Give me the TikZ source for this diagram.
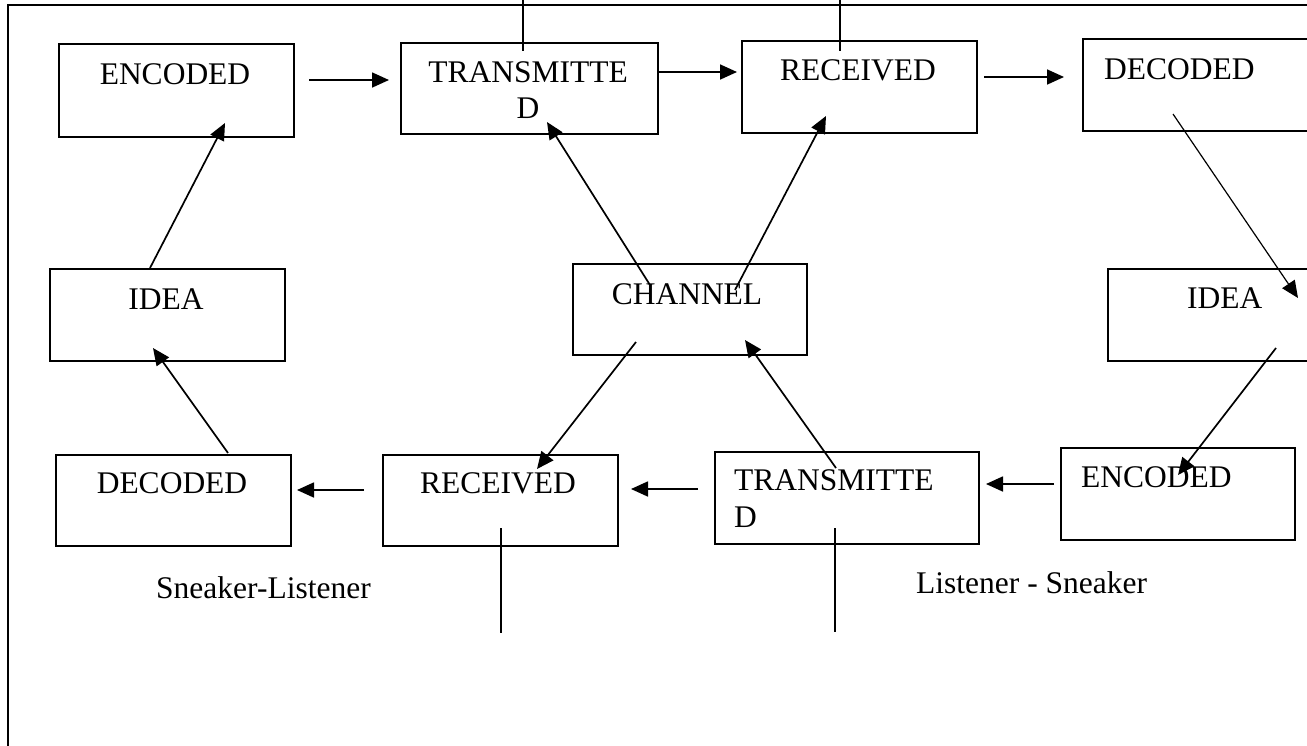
\documentclass[tikz,border=0pt]{standalone}
\usepackage{fontspec}
\setmainfont{Liberation Serif}
\usetikzlibrary{arrows.meta}
\begin{document}
\begin{tikzpicture}[x=1pt,y=-1pt,
  stagebox/.style={draw,line width=1.8pt,rectangle,inner sep=0pt,anchor=north west},
  lbl/.style={inner sep=0pt,font=\fontsize{31.5}{37}\selectfont},
  conn/.style={line width=1.7pt,-{Triangle[length=17pt,width=15pt]}},
  thinconn/.style={line width=1.2pt,-{Triangle[length=17pt,width=15pt]}},
  stem/.style={line width=1.5pt}]
\useasboundingbox (0,0) rectangle (1307,745);
\clip (0,0) rectangle (1307,745);
\fill[white] (0,0) rectangle (1307,745);
% frame
\draw[line width=2pt] (8,760) coordinate (fb) -- (8,5) coordinate (fc) -- (1320,5) coordinate (fr);
% boxes
\node[stagebox,minimum width=235pt,minimum height=93pt] (encT) at (58,43) {};
\node[stagebox,minimum width=257pt,minimum height=91pt] (trT) at (400,42) {};
\node[stagebox,minimum width=235pt,minimum height=92pt] (recT) at (741,40) {};
\node[stagebox,minimum width=240pt,minimum height=92pt] (decT) at (1082,38) {};
\node[stagebox,minimum width=235pt,minimum height=92pt] (ideaL) at (49,268) {};
\node[stagebox,minimum width=234pt,minimum height=91pt] (chan) at (572,263) {};
\node[stagebox,minimum width=240pt,minimum height=92pt] (ideaR) at (1107,268) {};
\node[stagebox,minimum width=235pt,minimum height=91pt] (decB) at (55,454) {};
\node[stagebox,minimum width=235pt,minimum height=91pt] (recB) at (382,454) {};
\node[stagebox,minimum width=264pt,minimum height=92pt] (trB) at (714,451) {};
\node[stagebox,minimum width=234pt,minimum height=92pt] (encB) at (1060,447) {};
% texts
\node[lbl,anchor=base] (tEncT) at (175,84) {ENCODED};
\node[lbl,anchor=base] (tTrT1) at (528,82) {TRANSMITTE};
\node[lbl,anchor=base] (tTrT2) at (528,118) {D};
\node[lbl,anchor=base] (tRecT) at (858,80) {RECEIVED};
\node[lbl,anchor=base west] (tDecT) at (1104,79) {DECODED};
\node[lbl,anchor=base] (tIdeaL) at (166,309) {IDEA};
\node[lbl,anchor=base] (tChan) at (687,304) {CHANNEL};
\node[lbl,anchor=base west] (tIdeaR) at (1187,308) {IDEA};
\node[lbl,anchor=base] (tDecB) at (172,493) {DECODED};
\node[lbl,anchor=base] (tRecB) at (498,493) {RECEIVED};
\node[lbl,anchor=base west] (tTrB1) at (734,490) {TRANSMITTE};
\node[lbl,anchor=base west] (tTrB2) at (734,527) {D};
\node[lbl,anchor=base west] (tEncB) at (1081,487) {ENCODED};
\node[lbl,anchor=base west] (sl) at (156,598) {Sneaker-Listener};
\node[lbl,anchor=base west] (ls) at (916,593) {Listener - Sneaker};
% connector end points
\coordinate (a1s) at (309,80);   \coordinate (a1e) at (389,80);
\coordinate (a2s) at (657,72);   \coordinate (a2e) at (737,72);
\coordinate (a3s) at (984,77);   \coordinate (a3e) at (1064,77);
\coordinate (a4s) at (150,268);  \coordinate (a4e) at (225,123);
\coordinate (a5s) at (228,453);  \coordinate (a5e) at (153,348);
\coordinate (a6s) at (650,285);  \coordinate (a6e) at (547,122);
\coordinate (a7s) at (735,290);  \coordinate (a7e) at (826,116);
\coordinate (a8s) at (636,342);  \coordinate (a8e) at (537,469);
\coordinate (a9s) at (836,468);  \coordinate (a9e) at (745,340);
\coordinate (a10s) at (1173,114); \coordinate (a10e) at (1298,298);
\coordinate (a11s) at (1276,348); \coordinate (a11e) at (1178,475);
\coordinate (a12s) at (1054,484); \coordinate (a12e) at (986,484);
\coordinate (a13s) at (698,489);  \coordinate (a13e) at (631,489);
\coordinate (a14s) at (364,490);  \coordinate (a14e) at (297,490);
\coordinate (s1s) at (523,0);   \coordinate (s1e) at (523,51);
\coordinate (s2s) at (840,0);   \coordinate (s2e) at (840,51);
\coordinate (s3s) at (501,528); \coordinate (s3e) at (501,633);
\coordinate (s4s) at (835,528); \coordinate (s4e) at (835,632);
% arrows
\draw[conn] (a1s) -- (a1e);
\draw[conn] (a2s) -- (a2e);
\draw[conn] (a3s) -- (a3e);
\draw[conn] (a4s) -- (a4e);
\draw[conn] (a5s) -- (a5e);
\draw[conn] (a6s) -- (a6e);
\draw[conn] (a7s) -- (a7e);
\draw[conn] (a8s) -- (a8e);
\draw[conn] (a9s) -- (a9e);
\draw[thinconn] (a10s) -- (a10e);
\draw[conn] (a11s) -- (a11e);
\draw[conn] (a12s) -- (a12e);
\draw[conn] (a13s) -- (a13e);
\draw[conn] (a14s) -- (a14e);
% stems
\draw[stem] (s1s) -- (s1e);
\draw[stem] (s2s) -- (s2e);
\draw[stem] (s3s) -- (s3e);
\draw[stem] (s4s) -- (s4e);
\end{tikzpicture}
\end{document}
